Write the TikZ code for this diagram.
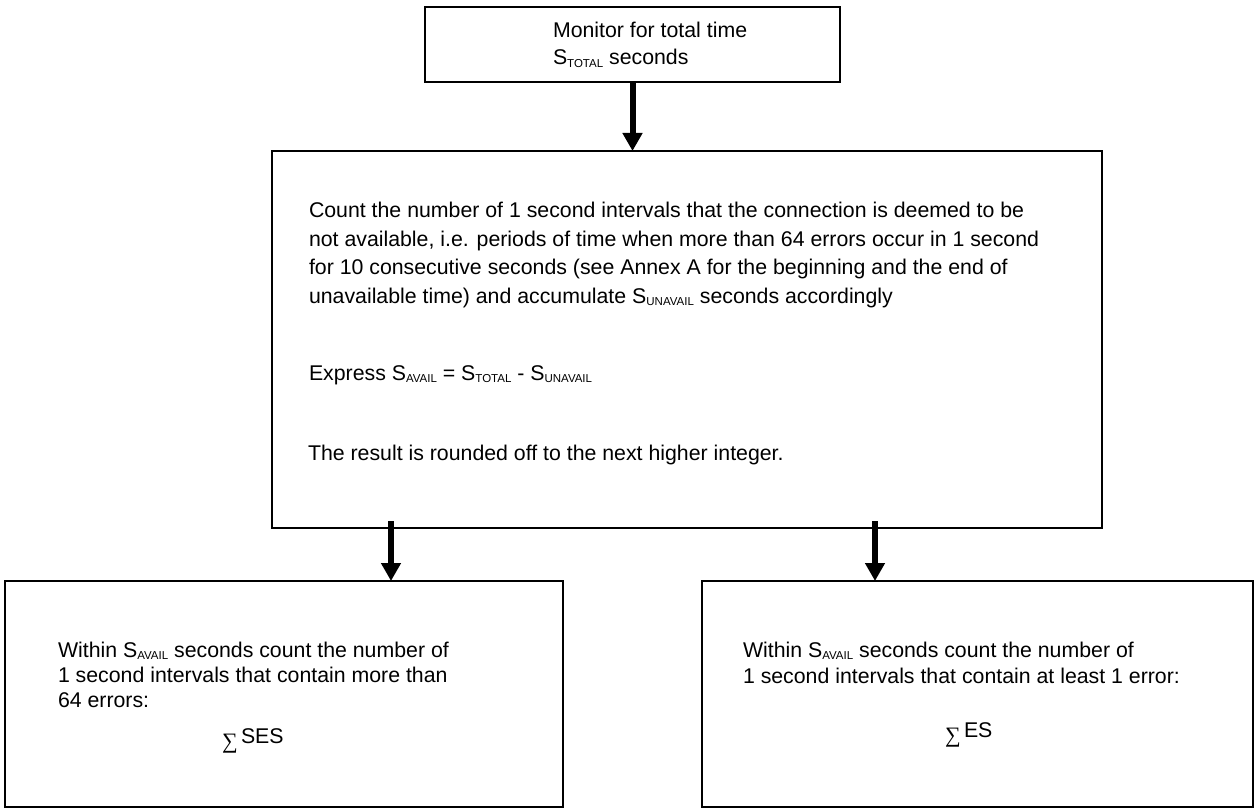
\documentclass[tikz,border=0pt]{standalone}
\usepackage{fontspec}
\setmainfont{Liberation Sans}
\newfontfamily\sigmafont{Liberation Serif}
\usetikzlibrary{arrows.meta}
\newcommand\mysub[1]{\raisebox{-2.5pt}{\fontsize{11.5}{12}\selectfont #1}}
\begin{document}
\begin{tikzpicture}[x=1pt,y=-1pt,
  box/.style={draw=black, line width=1.8pt, rectangle, inner sep=0pt, outer sep=0pt},
  txt/.style={anchor=base west, inner sep=0pt, outer sep=0pt, font=\fontsize{21.3}{25}\selectfont},
  sig/.style={anchor=base west, inner sep=0pt, outer sep=0pt, font=\sigmafont\fontsize{22}{25}\selectfont},
  arr/.style={line width=6pt, -{Triangle[width=19pt,length=18pt]}}]
\useasboundingbox (0,0) rectangle (1260,810);
% boxes
\node[box, minimum width=415pt, minimum height=75pt] (top) at (632.5,44.5) {};
\node[box, minimum width=830pt, minimum height=377pt] (mid) at (687,339.5) {};
\node[box, minimum width=558pt, minimum height=226pt] (lb) at (284,694) {};
\node[box, minimum width=551pt, minimum height=226pt] (rb) at (977.5,694) {};
% top text
\node[txt] (t1) at (553,38) {Monitor for total time};
\node[txt] (t2) at (553,65) {S\mysub{TOTAL} seconds};
% middle text
\node[txt] (m1) at (309,218) {Count the number of 1 second intervals that the connection is deemed to be};
\node[txt] (m2) at (309,247) {not available, i.e. periods of time when more than 64 errors occur in 1 second};
\node[txt] (m3) at (309,275) {for 10 consecutive seconds (see Annex A for the beginning and the end of};
\node[txt] (m4) at (309,303) {unavailable time) and accumulate S\mysub{UNAVAIL} seconds accordingly};
\node[txt] (m5) at (309,380) {Express S\mysub{AVAIL} = S\mysub{TOTAL} - S\mysub{UNAVAIL}};
\node[txt] (m6) at (308,460) {The result is rounded off to the next higher integer.};
% left text
\node[txt] (l1) at (58,657) {Within S\mysub{AVAIL} seconds count the number of};
\node[txt] (l2) at (58,682) {1 second intervals that contain more than};
\node[txt] (l3) at (58,707) {64 errors:};
\node[sig] (ls) at (222,748) {∑};
\node[txt] (lt) at (241,743) {SES};
% right text
\node[txt] (r1) at (743,657) {Within S\mysub{AVAIL} seconds count the number of};
\node[txt] (r2) at (743,683) {1 second intervals that contain at least 1 error:};
\node[sig] (rs) at (945,742) {∑};
\node[txt] (rt) at (964,737) {ES};
% arrows
\coordinate (xl) at (391,0);
\coordinate (xr) at (875,0);
\draw[arr] (top.south) -- (mid.north -| top.south);
\draw[arr] ([yshift=7pt]mid.south -| xl) -- (lb.north -| xl);
\draw[arr] ([yshift=7pt]mid.south -| xr) -- (rb.north -| xr);
\end{tikzpicture}
\end{document}
